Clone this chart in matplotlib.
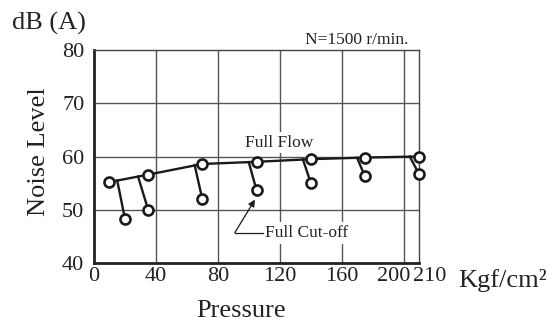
import matplotlib
matplotlib.use('Agg')
import matplotlib.pyplot as plt
from matplotlib.transforms import ScaledTranslation

# Noise level of the pump at N = 1500 r/min
full_flow_p = [10, 35, 70, 105, 140, 175, 210]
full_flow_db = [55.2, 56.6, 58.6, 59.0, 59.5, 59.8, 60.0]

cutoff_p = [20, 35, 70, 105, 140, 175, 210]
cutoff_db = [48.3, 50.0, 52.0, 53.7, 55.1, 56.3, 56.7]

# where each cut-off leg leaves the full-flow curve
branch_p = [15, 28.5, 65, 100, 135, 170, 204]
branch_db = [55.5, 56.2, 58.4, 58.95, 59.45, 59.75, 60.0]

x_ticks = [0, 40, 80, 120, 160, 200, 210]
y_ticks = [40, 50, 60, 70, 80]

plt.rcParams['font.family'] = ['Liberation Serif', 'DejaVu Serif']

fig = plt.figure(figsize=(5.57, 3.24), dpi=100)
ax = fig.add_axes([94 / 557, 1 - 263 / 324, 325 / 557, 213 / 324])

ax.set_xlim(0, 210)
ax.set_ylim(40, 80)

# grid
for gx in [40, 80, 120, 160, 200]:
    ax.axvline(gx, color='#555555', lw=1.0, zorder=1)
for gy in [50, 60, 70]:
    ax.axhline(gy, color='#555555', lw=1.0, zorder=1)

for side in ['left', 'bottom']:
    ax.spines[side].set_linewidth(2.0)
    ax.spines[side].set_color('#222222')
for side in ['top', 'right']:
    ax.spines[side].set_linewidth(1.0)
    ax.spines[side].set_color('#444444')

ax.set_xticks(x_ticks)
ax.set_yticks(y_ticks)
ax.tick_params(length=0, labelsize=16, colors='#222222')
ax.tick_params(axis='x', pad=3)
ax.tick_params(axis='y', pad=7)

# nudge the crowded 200 / 210 labels apart
labels = ax.get_xticklabels()
labels[5].set_ha('right')
labels[5].set_transform(labels[5].get_transform() + ScaledTranslation(7 / 100, 0, fig.dpi_scale_trans))
labels[6].set_ha('left')
labels[6].set_transform(labels[6].get_transform() + ScaledTranslation(-6 / 100, 0, fig.dpi_scale_trans))

# full-flow curve
ax.plot(full_flow_p, full_flow_db, color='#1a1a1a', lw=1.7, zorder=3, clip_on=False)

# cut-off legs
for bp, bd, cp, cd in zip(branch_p, branch_db, cutoff_p, cutoff_db):
    ax.plot([bp, cp], [bd, cd], color='#1a1a1a', lw=1.7, zorder=3, clip_on=False)

ax.plot(full_flow_p, full_flow_db, 'o', ms=7.2, mfc='white', mec='#1a1a1a', mew=1.9,
        zorder=4, clip_on=False)
ax.plot(cutoff_p, cutoff_db, 'o', ms=7.2, mfc='white', mec='#1a1a1a', mew=1.9,
        zorder=4, clip_on=False)

# annotations
ax.text(119.5, 62.6, 'Full Flow', fontsize=12.5, ha='center', va='center', color='#222222',
        bbox=dict(fc='white', ec='none', pad=2), zorder=2)
ax.text(110.5, 45.6, 'Full Cut-off', fontsize=12.5, ha='left', va='center', color='#222222',
        bbox=dict(fc='white', ec='none', pad=2), zorder=2)
ax.plot([91, 109.5], [45.7, 45.7], color='#1a1a1a', lw=0.9, zorder=3)
ax.annotate('', xy=(104, 51.9), xytext=(91, 45.7),
            arrowprops=dict(arrowstyle='-|>', color='#1a1a1a', lw=0.9,
                            mutation_scale=10, shrinkA=0, shrinkB=0), zorder=3)

fig.text(408 / 557, 1 - 44 / 324, 'N=1500 r/min.', fontsize=12.5, ha='right', va='baseline',
         color='#222222')

fig.text(12 / 557, 1 - 30 / 324, 'dB (A)', fontsize=19, ha='left', va='baseline', color='#222222')
fig.text(39 / 557, 1 - 152 / 324, 'Noise Level', fontsize=19, rotation=90, ha='center',
         va='center', color='#222222')
fig.text(241 / 557, 1 - 317 / 324, 'Pressure', fontsize=19, ha='center', va='baseline',
         color='#222222')
fig.text(458 / 557, 1 - 287 / 324, 'Kgf/cm²', fontsize=19, ha='left', va='baseline',
         color='#222222')

fig.savefig('out.png', dpi=100)
